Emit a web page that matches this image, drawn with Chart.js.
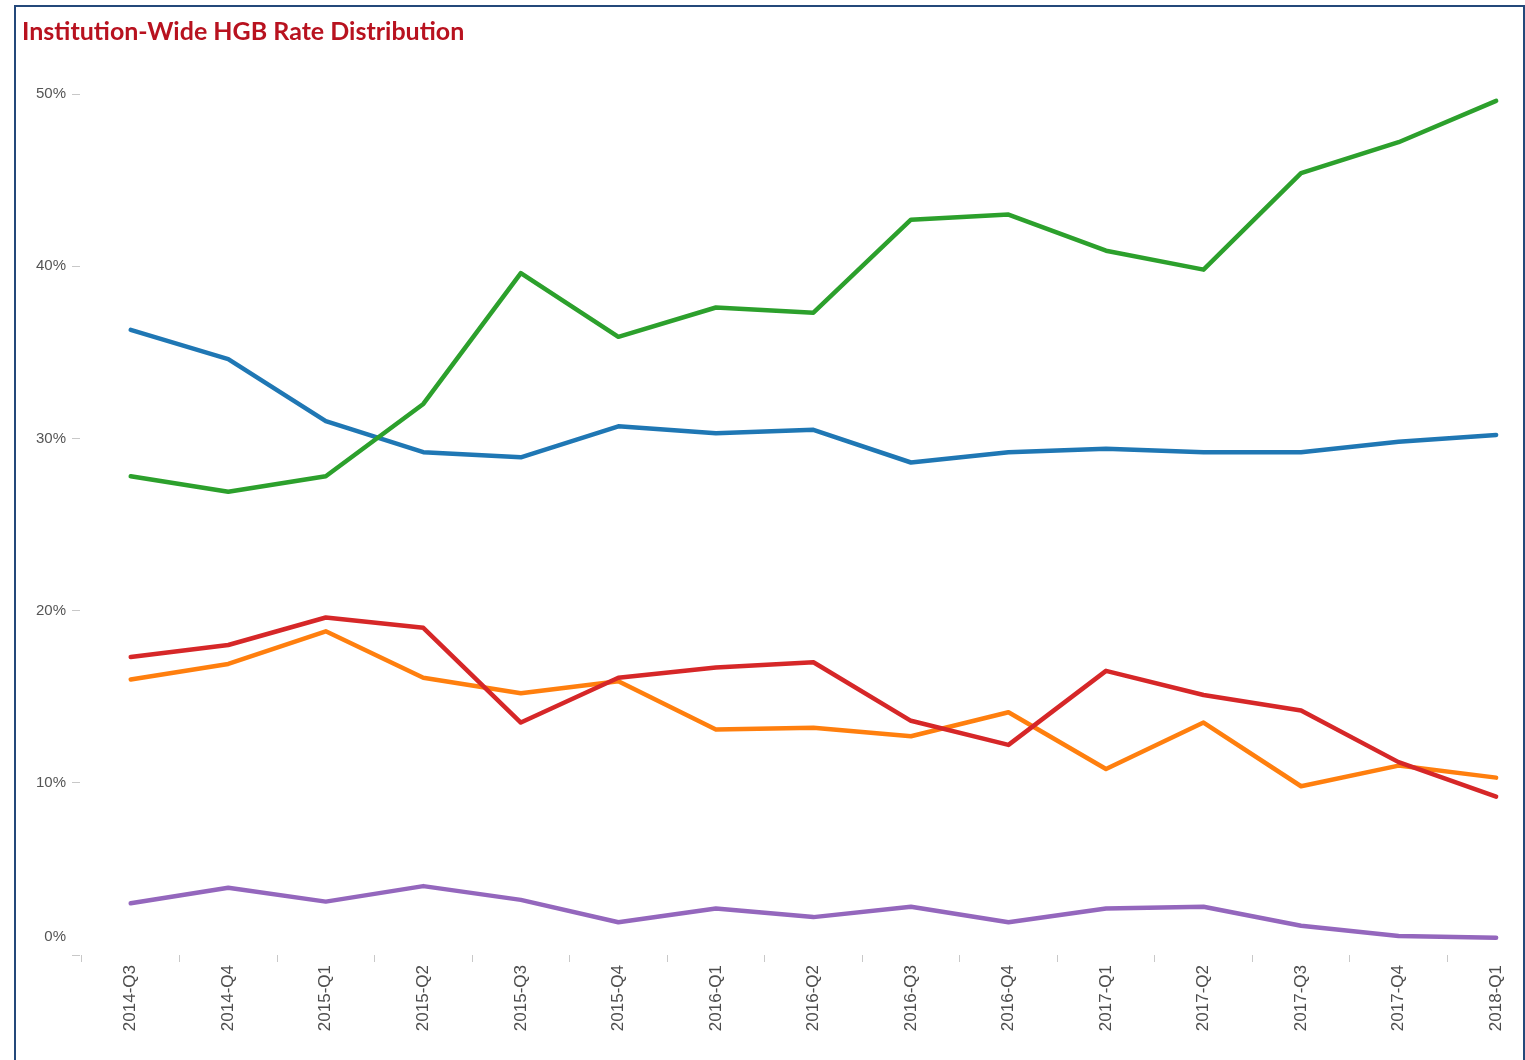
<!DOCTYPE html>
<html>
<head>
<meta charset="utf-8">
<script src="https://cdn.jsdelivr.net/npm/chart.js@4.4.1/dist/chart.umd.min.js"></script>
<style>
  html, body { margin: 0; padding: 0; background: #fff; overflow: hidden; }
  #frame {
    position: absolute;
    left: 14px;
    top: 5px;
    width: 1511px;
    height: 1070px;
    border: 2px solid #24487a;
    box-sizing: border-box;
    background: #fff;
  }
  #chart { display: block; }
</style>
</head>
<body>
<div id="frame">
  <canvas id="chart" width="1507" height="1053"></canvas>
</div>
<script>
const quarters = [
  "2014-Q3", "2014-Q4", "2015-Q1", "2015-Q2", "2015-Q3", "2015-Q4",
  "2016-Q1", "2016-Q2", "2016-Q3", "2016-Q4", "2017-Q1", "2017-Q2",
  "2017-Q3", "2017-Q4", "2018-Q1"
];

const greenSeries  = [27.8, 26.9, 27.8, 32.0, 39.6, 35.9, 37.6, 37.3, 42.7, 43.0, 40.9, 39.8, 45.4, 47.2, 49.6];
const blueSeries   = [36.3, 34.6, 31.0, 29.2, 28.9, 30.7, 30.3, 30.5, 28.6, 29.2, 29.4, 29.2, 29.2, 29.8, 30.2];
const redSeries    = [17.3, 18.0, 19.6, 19.0, 13.5, 16.1, 16.7, 17.0, 13.6, 12.2, 16.5, 15.1, 14.2, 11.2, 9.2];
const orangeSeries = [16.0, 16.9, 18.8, 16.1, 15.2, 15.9, 13.1, 13.2, 12.7, 14.1, 10.8, 13.5, 9.8, 11.0, 10.3];
const purpleSeries = [3.0, 3.9, 3.1, 4.0, 3.2, 1.9, 2.7, 2.2, 2.8, 1.9, 2.7, 2.8, 1.7, 1.1, 1.0];

const yTicks = [0, 10, 20, 30, 40, 50];

function toPoints(values) {
  return values.map((v, i) => ({ x: i, y: v }));
}

function line(values, color) {
  return {
    data: toPoints(values),
    borderColor: color,
    backgroundColor: color,
    borderWidth: 4.5,
    tension: 0,
    fill: false,
    pointRadius: 0,
    pointHoverRadius: 0,
    borderCapStyle: "round",
    borderJoinStyle: "round"
  };
}

const ctx = document.getElementById("chart").getContext("2d");

new Chart(ctx, {
  type: "line",
  data: {
    datasets: [
      line(greenSeries, "#2ca02c"),
      line(blueSeries, "#1f77b4"),
      line(redSeries, "#d62728"),
      line(orangeSeries, "#ff7f0e"),
      line(purpleSeries, "#9467bd")
    ]
  },
  options: {
    responsive: false,
    animation: false,
    layout: { padding: { left: 6, right: 22, top: 0, bottom: 0 } },
    plugins: {
      legend: { display: false },
      tooltip: { enabled: false },
      title: {
        display: true,
        text: "Institution-Wide HGB Rate Distribution",
        align: "start",
        color: "#b8121f",
        font: { family: "Lato, 'Open Sans', sans-serif", size: 25, weight: "bold", lineHeight: 1.2 },
        padding: { top: 10, bottom: 47 }
      }
    },
    scales: {
      x: {
        type: "linear",
        min: -0.52,
        max: 14.05,
        afterBuildTicks: (scale) => {
          const ticks = [];
          for (let i = 0; i < quarters.length; i++) {
            ticks.push({ value: i - 0.5 });
            ticks.push({ value: i });
          }
          scale.ticks = ticks;
        },
        afterFit: (scale) => { scale.height = 105; },
        border: { display: false },
        grid: {
          drawOnChartArea: false,
          drawTicks: true,
          tickLength: 7,
          tickColor: (c) => (c.tick && Number.isInteger(c.tick.value)) ? "rgba(0,0,0,0)" : "#c8c8c8"
        },
        ticks: {
          autoSkip: false,
          minRotation: 90,
          maxRotation: 90,
          padding: 3,
          color: "#4d4d4d",
          font: { family: "'Liberation Sans', Arial, sans-serif", size: 17 },
          callback: (value) => Number.isInteger(value) ? quarters[value] : ""
        }
      },
      y: {
        min: 0,
        max: 50,
        afterBuildTicks: (scale) => {
          scale.ticks = yTicks.map((v) => ({ value: v }));
        },
        afterFit: (scale) => { scale.width = 58; },
        border: { display: false },
        grid: {
          drawOnChartArea: false,
          drawTicks: true,
          tickLength: 8,
          tickColor: "#c8c8c8"
        },
        ticks: {
          padding: 6,
          color: "#555",
          font: { family: "'Liberation Sans', Arial, sans-serif", size: 15 },
          callback: (value) => value === 0 ? ["0%", "", ""] : value + "%"
        }
      }
    }
  }
});
</script>
</body>
</html>
